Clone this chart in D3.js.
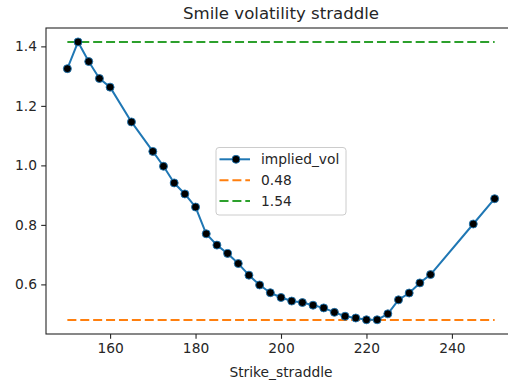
<!DOCTYPE html>
<html>
<head>
<meta charset="utf-8">
<script src="https://cdn.jsdelivr.net/npm/d3@7"></script>
<style>
  html, body { margin: 0; padding: 0; background: #fff; }
  svg { display: block; font-family: "DejaVu Sans", sans-serif; }
</style>
</head>
<body>
<svg id="chart" width="508" height="384"></svg>
<script>
// Straddle strikes and their implied volatility
const strikes = [150, 152.5, 155, 157.5, 160, 165, 170, 172.5, 175, 177.5, 180, 182.5,
  185, 187.5, 190, 192.5, 195, 197.5, 200, 202.5, 205, 207.5, 210, 212.5, 215, 217.5,
  220, 222.5, 225, 227.5, 230, 232.5, 235, 245, 250];
const impliedVol = [1.325, 1.415, 1.349, 1.292, 1.263, 1.146, 1.047, 0.997, 0.941, 0.904,
  0.860, 0.770, 0.732, 0.704, 0.670, 0.631, 0.598, 0.572, 0.556, 0.544, 0.539, 0.530,
  0.521, 0.506, 0.493, 0.487, 0.481, 0.481, 0.501, 0.548, 0.571, 0.605, 0.633, 0.803, 0.888];

// Horizontal reference levels (lower and upper) and their legend labels
const lowLevel = 0.48;
const highLevel = 1.415;
const legendLabels = ["implied_vol", "0.48", "1.54"];

const xTicks = [160, 180, 200, 220, 240];
const yTicks = [0.6, 0.8, 1.0, 1.2, 1.4];

const blue = "#1f77b4", orange = "#ff7f0e", green = "#2ca02c";
const ink = "#262626";
const fontSize = 13.8;

const svg = d3.select("#chart");
const plot = { left: 46, top: 28, right: 516, bottom: 334 };

const xMin = d3.min(strikes), xMax = d3.max(strikes);
const xPad = (xMax - xMin) * 0.05;
const yLo = Math.min(d3.min(impliedVol), lowLevel), yHi = Math.max(d3.max(impliedVol), highLevel);
const yPad = (yHi - yLo) * 0.05;

const x = d3.scaleLinear().domain([xMin - xPad, xMax + xPad]).range([plot.left, plot.right]);
const y = d3.scaleLinear().domain([yLo - yPad, yHi + yPad]).range([plot.bottom, plot.top]);

svg.append("rect").attr("width", 508).attr("height", 384).attr("fill", "#fff");

// Dashed reference lines across the strike range
const dash = "9,3.9";
svg.append("line")
  .attr("x1", x(xMin)).attr("x2", x(xMax))
  .attr("y1", y(lowLevel)).attr("y2", y(lowLevel))
  .attr("stroke", orange).attr("stroke-width", 2).attr("stroke-dasharray", dash);
svg.append("line")
  .attr("x1", x(xMin)).attr("x2", x(xMax))
  .attr("y1", y(highLevel)).attr("y2", y(highLevel))
  .attr("stroke", green).attr("stroke-width", 2).attr("stroke-dasharray", dash);

// Volatility smile line with point markers
const pts = strikes.map((s, i) => [s, impliedVol[i]]);
svg.append("path")
  .datum(pts)
  .attr("fill", "none")
  .attr("stroke", blue)
  .attr("stroke-width", 2)
  .attr("stroke-linejoin", "round")
  .attr("d", d3.line().x(d => x(d[0])).y(d => y(d[1])));

svg.append("g").selectAll("circle")
  .data(pts)
  .join("circle")
  .attr("cx", d => x(d[0]))
  .attr("cy", d => y(d[1]))
  .attr("r", 4)
  .attr("fill", "#000")
  .attr("stroke", blue)
  .attr("stroke-width", 0.9);

// Axes
const xAxis = d3.axisBottom(x).tickValues(xTicks).tickFormat(d3.format("d"))
  .tickSize(4.8).tickPadding(4.2).tickSizeOuter(0);
const yAxis = d3.axisLeft(y).tickValues(yTicks).tickFormat(d3.format(".1f"))
  .tickSize(4.8).tickPadding(4.2).tickSizeOuter(0);

const gx = svg.append("g").attr("transform", `translate(0,${plot.bottom})`).call(xAxis);
const gy = svg.append("g").attr("transform", `translate(${plot.left},0)`).call(yAxis);
[gx, gy].forEach(g => {
  g.select(".domain").remove();
  g.selectAll(".tick line").attr("stroke", ink).attr("stroke-width", 1.1);
  g.selectAll(".tick text").attr("fill", ink)
    .style("font-family", "DejaVu Sans").style("font-size", fontSize + "px");
});

// Frame around the plotting area
svg.append("rect")
  .attr("x", plot.left).attr("y", plot.top)
  .attr("width", plot.right - plot.left).attr("height", plot.bottom - plot.top)
  .attr("fill", "none").attr("stroke", ink).attr("stroke-width", 1.1);

// Title and axis label
const cx = (plot.left + plot.right) / 2;
svg.append("text")
  .attr("x", cx).attr("y", 19)
  .attr("text-anchor", "middle")
  .attr("fill", ink)
  .style("font-size", "16.6px")
  .text("Smile volatility straddle");
svg.append("text")
  .attr("x", cx).attr("y", 376.5)
  .attr("text-anchor", "middle")
  .attr("fill", ink)
  .style("font-size", fontSize + "px")
  .text("Strike_straddle");

// Legend
const lg = svg.append("g").attr("transform", "translate(216,147.5)");
lg.append("rect")
  .attr("width", 130).attr("height", 67.5).attr("rx", 3)
  .attr("fill", "#fff").attr("fill-opacity", 0.8)
  .attr("stroke", "#cccccc").attr("stroke-width", 1);
const rowY = [11.8, 32.8, 53.5];
const rowColor = [blue, orange, green];
legendLabels.forEach((lab, i) => {
  const row = lg.append("g").attr("transform", `translate(0,${rowY[i]})`);
  row.append("line")
    .attr("x1", 3.5).attr("x2", 34)
    .attr("stroke", rowColor[i]).attr("stroke-width", 2)
    .attr("stroke-dasharray", i === 0 ? null : "9,3.9");
  if (i === 0) {
    row.append("circle").attr("cx", 20).attr("r", 4)
      .attr("fill", "#000").attr("stroke", blue).attr("stroke-width", 0.9);
  }
  row.append("text")
    .attr("x", 45).attr("dy", "0.35em")
    .attr("fill", ink)
    .style("font-size", fontSize + "px")
    .text(lab);
});
</script>
</body>
</html>
